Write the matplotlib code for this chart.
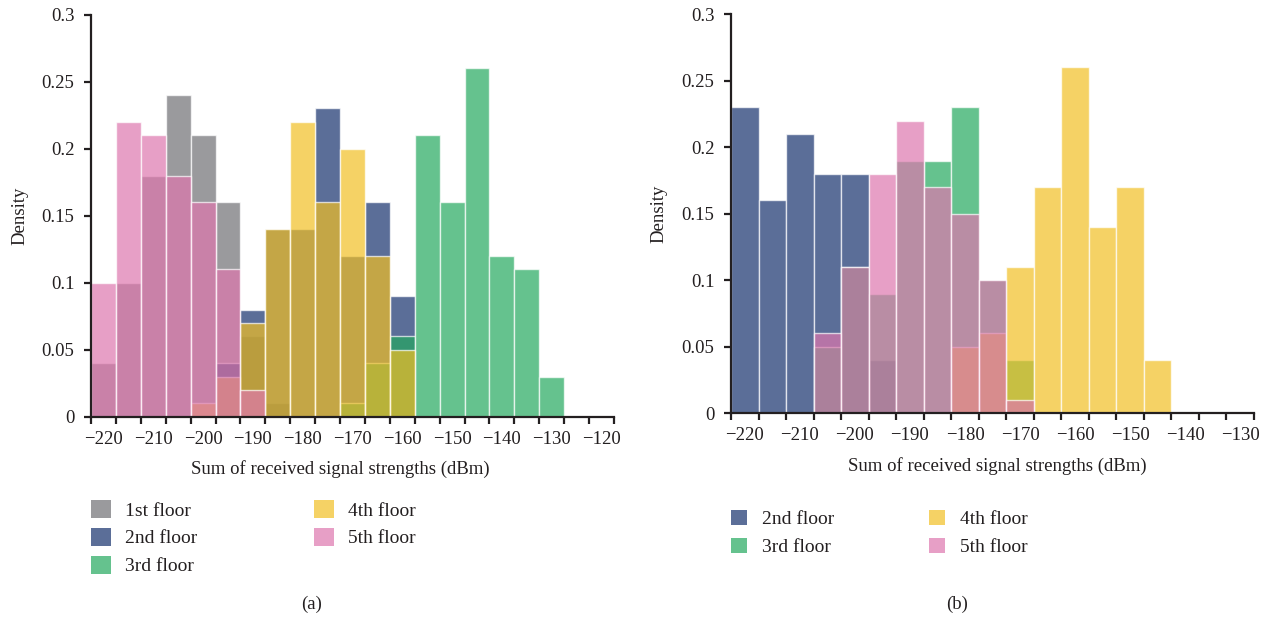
import numpy as np
import matplotlib
matplotlib.use("Agg")
import matplotlib.pyplot as plt
from matplotlib.patches import Patch

plt.rcParams['font.family'] = ['Liberation Serif', 'DejaVu Serif']

# bin centres (dBm), bins are 5 dBm wide
bins_a = np.arange(-220, -115, 5)   # -220 ... -120
bins_b = np.arange(-220, -125, 5)   # -220 ... -130

# (a) fraction of samples per bin
a_1st = [0.04, 0.10, 0.18, 0.24, 0.21, 0.16, 0.06, 0.01, 0, 0, 0, 0, 0, 0, 0, 0, 0, 0, 0, 0, 0]
a_2nd = [0, 0, 0, 0, 0, 0.04, 0.08, 0.14, 0.14, 0.23, 0.12, 0.16, 0.09, 0, 0, 0, 0, 0, 0, 0, 0]
a_3rd = [0, 0, 0, 0, 0, 0, 0, 0, 0, 0, 0.01, 0.04, 0.06, 0.21, 0.16, 0.26, 0.12, 0.11, 0.03, 0, 0]
a_4th = [0, 0, 0, 0, 0.01, 0.03, 0.07, 0.14, 0.22, 0.16, 0.20, 0.12, 0.05, 0, 0, 0, 0, 0, 0, 0, 0]
a_5th = [0.10, 0.22, 0.21, 0.18, 0.16, 0.11, 0.02, 0, 0, 0, 0, 0, 0, 0, 0, 0, 0, 0, 0, 0, 0]

# (b)
b_2nd = [0.23, 0.16, 0.21, 0.18, 0.18, 0.04, 0, 0, 0, 0, 0, 0, 0, 0, 0, 0, 0, 0, 0]
b_3rd = [0, 0, 0, 0.05, 0.11, 0.09, 0.19, 0.19, 0.23, 0.10, 0.04, 0, 0, 0, 0, 0, 0, 0, 0]
b_4th = [0, 0, 0, 0, 0, 0, 0, 0, 0.05, 0.06, 0.11, 0.17, 0.26, 0.14, 0.17, 0.04, 0, 0, 0]
b_5th = [0, 0, 0, 0.06, 0.11, 0.18, 0.22, 0.17, 0.15, 0.10, 0.01, 0, 0, 0, 0, 0, 0, 0, 0]

colors = {
    '1st floor': '#6f6f74',
    '2nd floor': '#15316d',
    '3rd floor': '#24a85f',
    '4th floor': '#f1bf24',
    '5th floor': '#de77ae',
}
ALPHA = 0.7
INK = '#231f20'


def draw_panel(ax, centers, groups):
    for name, heights in groups:
        h = np.asarray(heights)
        keep = h > 0
        ax.bar(centers[keep], h[keep], width=5, color=colors[name], alpha=ALPHA,
               edgecolor='white', linewidth=1.0)
    edges = np.append(centers - 2.5, centers[-1] + 2.5)
    ax.set_xlim(edges[0], edges[-1])
    ax.set_ylim(0, 0.3)
    # labels every 10 dBm, tick marks on bin edges
    ax.set_xticks(np.arange(-220, centers[-1] + 1, 10))
    ax.set_xticks(edges, minor=True)
    ax.tick_params(axis='x', which='major', length=0, pad=10, labelsize=13.5, colors=INK)
    ax.tick_params(axis='x', which='minor', length=5, width=1.6, color=INK)
    yt = np.arange(0, 0.31, 0.05)
    ax.set_yticks(yt)
    ax.set_yticklabels([f'{v:g}' for v in np.round(yt, 2)])
    ax.tick_params(axis='y', length=5, width=1.6, pad=7, labelsize=13.5, colors=INK)
    for s in ['top', 'right']:
        ax.spines[s].set_visible(False)
    for s in ['left', 'bottom']:
        ax.spines[s].set_linewidth(1.6)
        ax.spines[s].set_color(INK)
        ax.spines[s].set_zorder(5)
    ax.set_xlabel('Sum of received signal strengths (dBm)', fontsize=13.5, color=INK)
    ax.set_ylabel('Density', fontsize=13.5, color=INK)


fig = plt.figure(figsize=(12.75, 6.22), dpi=100)
ax_a = fig.add_axes([91 / 1275, 0.330, 523 / 1275, 0.6464])
ax_b = fig.add_axes([731 / 1275, 0.3355, 523 / 1275, 0.6417])

groups_a = [('1st floor', a_1st), ('2nd floor', a_2nd), ('3rd floor', a_3rd),
            ('4th floor', a_4th), ('5th floor', a_5th)]
groups_b = [('2nd floor', b_2nd), ('3rd floor', b_3rd),
            ('4th floor', b_4th), ('5th floor', b_5th)]

draw_panel(ax_a, bins_a, groups_a)
draw_panel(ax_b, bins_b, groups_b)

ax_a.xaxis.set_label_coords(249 / 523, -0.130)
ax_a.xaxis.label.set_va('center')
ax_b.xaxis.set_label_coords(266 / 523, -0.131)
ax_b.xaxis.label.set_va('center')
ax_a.yaxis.set_label_coords(-63 / 523, 0.5)
ax_b.yaxis.set_label_coords(-64 / 523, 0.5)

# legends
h_a = [Patch(facecolor=colors[n], alpha=ALPHA, edgecolor='none', label=n) for n, _ in groups_a]
ax_a.legend(handles=h_a, ncol=2, frameon=False, fontsize=14,
            loc='upper left', bbox_to_anchor=(91 / 1275, 1 - 500 / 622),
            bbox_transform=fig.transFigure, borderpad=0, borderaxespad=0,
            handlelength=1.05, handleheight=1.05, handletextpad=0.7,
            labelspacing=0.42, columnspacing=6.0, labelcolor=INK)

h_b = [Patch(facecolor=colors[n], alpha=ALPHA, edgecolor='none', label=n) for n, _ in groups_b]
ax_b.legend(handles=h_b, ncol=2, frameon=False, fontsize=14,
            loc='upper left', bbox_to_anchor=(731 / 1275, 1 - 510 / 622),
            bbox_transform=fig.transFigure, borderpad=0, borderaxespad=0,
            handlelength=0.82, handleheight=0.82, handletextpad=0.75,
            labelspacing=0.48, columnspacing=4.9, labelcolor=INK)

fig.text(312 / 1275, 1 - 604 / 622, '(a)', ha='center', va='center', fontsize=13.5, color=INK)
fig.text(957 / 1275, 1 - 604 / 622, '(b)', ha='center', va='center', fontsize=13.5, color=INK)

fig.savefig('out.png', dpi=100)
